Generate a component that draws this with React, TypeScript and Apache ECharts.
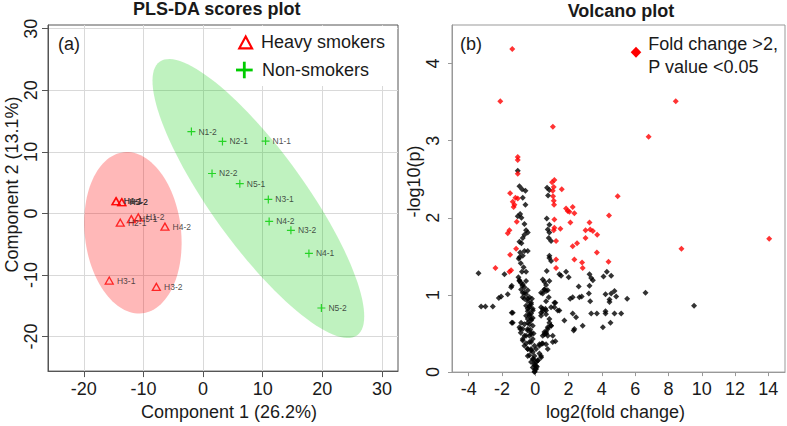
import React, { useEffect, useRef } from 'react';
import * as echarts from 'echarts';

const FONT = '"Liberation Sans", Arial, Helvetica, sans-serif';

// ---------- PLS-DA scores plot data ----------
const nonSmokerNames = ['N1-1', 'N1-2', 'N2-1', 'N2-2', 'N3-1', 'N3-2', 'N4-1', 'N4-2', 'N5-1', 'N5-2'];
const nonSmokerX = [10.49, -1.95, 3.26, 1.51, 10.95, 14.74, 17.76, 11.09, 6.17, 19.85];
const nonSmokerY = [11.75, 13.3, 11.7, 6.49, 2.28, -2.74, -6.49, -1.29, 4.83, -15.35];

const heavyNames = ['H1-1', 'H4-1', 'H2-2', 'H5-2', 'H2-1', 'H5-1', 'H1-2', 'H4-2', 'H3-1', 'H3-2'];
const heavyX = [-14.55, -14.62, -13.6, -13.66, -13.88, -12.03, -10.86, -6.39, -15.73, -7.83];
const heavyY = [2.0, 1.98, 1.85, 1.82, -1.5, -0.92, -0.64, -2.14, -10.9, -11.92];

// confidence ellipses: centre, major semi-axis vector, minor semi-axis vector (data units)
const ellipseCenters = [[-11.76, -3.14], [9.28, 2.42]];
const ellipseMajor = [[-1.56, 13.08], [16.55, -22.22]];
const ellipseMinor = [[8.02, 0.89], [-6.43, -4.4]];
const ellipseColors = ['rgba(255,0,0,0.28)', 'rgba(0,205,0,0.25)'];

const pcaXTicks = [-20, -10, 0, 10, 20, 30];
const pcaYTicks = [-20, -10, 0, 10, 20, 30];

// ---------- Volcano plot data ----------
const sigPoints = [
  [-1.38, 4.19], [-2.1, 3.51], [1.06, 3.18], [8.44, 3.51], [6.81, 3.05],
  [-1.05, 2.79], [-1.05, 2.75], [-1.05, 2.57],
  [1.01, 2.46], [1.15, 2.49], [1.11, 2.4], [1.05, 2.35], [1.59, 2.37],
  [-1.51, 2.32], [-1.35, 2.21], [-1.19, 2.26], [-1.25, 2.17], [-1.3, 2.14], [-1.05, 2.25],
  [1.07, 2.28], [1.11, 2.22], [1.13, 2.17],
  [1.85, 2.12], [1.95, 2.09], [2.25, 2.14], [2.35, 2.06], [2.05, 2.08],
  [4.43, 2.03], [4.95, 2.28],
  [2.11, 1.94], [-1.11, 1.95], [1.15, 1.98], [1.15, 1.87], [1.11, 1.84], [1.51, 1.86],
  [3.26, 1.94], [3.02, 1.84], [3.3, 1.85], [3.46, 1.83], [3.72, 1.78], [3.02, 1.74],
  [-1.55, 1.84], [-1.65, 1.8], [1.25, 1.7], [2.51, 1.67], [2.25, 1.63], [3.7, 1.55],
  [-1.51, 1.52], [-1.15, 1.6], [2.35, 1.46], [1.25, 1.46], [-2.39, 1.35], [-1.45, 1.32],
  [-1.55, 1.3], [1.25, 1.35], [2.81, 1.42], [2.85, 1.35], [4.4, 1.43], [8.78, 1.6], [14.05, 1.73],
];

const nonSigPoints = [
  [-1.05, 2.61], [-0.95, 2.41], [-0.79, 2.37], [-0.59, 2.35], [-0.75, 2.26], [-0.59, 2.17],
  [-1.05, 2.02], [-0.91, 2.05], [-0.83, 2.0], [-0.65, 1.92], [-0.55, 1.84], [-0.45, 1.81],
  [-0.65, 1.78], [-0.75, 1.74], [-0.95, 1.69], [-0.83, 1.67], [-0.91, 1.55], [-0.65, 1.57],
  [-0.45, 1.57], [-0.75, 1.51], [-0.95, 1.49], [-0.99, 1.47], [-0.87, 1.41], [-0.55, 1.3],
  [-1.01, 1.23], [-0.95, 1.19], [-0.87, 1.16], [-0.77, 1.12], [-0.55, 1.18], [-1.41, 1.12],
  [-1.45, 1.1], [-0.7, 1.36], [-0.8, 1.3],
  [-3.41, 1.28], [-1.85, 1.27], [-1.65, 1.01], [-2.05, 0.98], [-2.19, 0.96], [-3.25, 0.85],
  [-2.99, 0.85], [-2.55, 0.85], [-1.41, 0.77], [-1.41, 0.64], [-1.35, 0.77], [-1.35, 0.64],
  [-0.9, 0.56], [-0.87, 0.51], [-0.65, 0.47], [-0.75, 0.43], [-0.55, 0.37], [-0.45, 0.3],
  [-0.65, 1.1], [-0.45, 1.06], [-0.75, 1.03], [-0.55, 1.01], [-0.35, 0.97], [-0.65, 0.95],
  [-0.45, 0.92], [-0.25, 0.88], [-0.55, 0.86], [-0.35, 0.84], [-0.15, 0.82], [-0.45, 0.79],
  [-0.25, 0.76], [-0.35, 0.73], [-0.45, 0.69], [-0.25, 0.67], [-0.35, 0.62], [-0.15, 0.6],
  [-0.45, 0.56], [-0.25, 0.51], [-0.35, 0.47], [-0.15, 0.43], [-0.25, 0.39], [-0.05, 0.34],
  [-0.25, 0.3], [-0.15, 0.26], [-0.05, 0.21], [-0.1, 0.17], [0.05, 0.13], [-0.05, 0.09],
  [0.0, 0.04], [-0.03, 0.01], [0.1, 0.07], [0.15, 0.15], [0.25, 0.24], [0.35, 0.19],
  [-0.15, 0.7], [-0.3, 0.55], [-0.1, 0.5], [0.05, 0.3], [-0.35, 0.22], [-0.2, 0.95],
  [-0.95, 1.18], [-0.75, 1.14], [-0.85, 1.07], [-0.65, 1.03], [-0.75, 0.97], [-0.45, 0.95],
  [-0.25, 0.9], [-0.35, 0.86], [-0.45, 0.82], [-0.15, 0.8], [-0.35, 0.75], [-0.55, 0.73],
  [-0.25, 0.69], [-0.45, 0.64], [-0.65, 0.62], [-0.85, 0.64], [-0.95, 0.58], [-0.75, 0.56],
  [-0.45, 0.54], [-0.25, 0.49], [-0.55, 0.47], [-0.75, 0.41], [-0.35, 0.39], [-0.65, 0.34],
  [-0.45, 0.3], [-0.25, 0.28], [-0.45, 0.21], [-0.15, 0.17], [-0.25, 0.13], [-0.05, 0.11],
  [-0.15, 0.06], [0.05, 0.04], [-0.05, 0.0],
  [0.35, 1.03], [0.55, 1.07], [0.85, 1.18], [0.45, 0.82], [0.65, 0.8], [0.35, 0.77],
  [0.95, 0.84], [1.15, 0.9], [1.45, 0.8], [0.85, 0.69], [0.95, 0.6], [0.75, 0.56],
  [0.65, 0.52], [0.55, 0.49], [1.05, 0.47], [1.05, 0.39], [0.45, 0.37], [0.25, 0.34],
  [0.75, 0.3], [0.35, 0.21], [0.15, 0.15], [0.05, 0.08],
  [0.71, 2.39], [0.85, 2.36], [0.77, 2.29], [0.69, 1.99], [0.85, 1.91], [0.75, 1.85],
  [0.85, 1.81], [0.81, 1.74], [0.95, 1.7], [0.85, 1.51], [0.85, 1.48], [0.95, 1.44],
  [0.69, 1.31], [0.45, 1.2], [0.55, 1.17], [0.65, 1.13], [0.55, 1.07], [0.45, 1.02],
  [0.65, 1.05], [0.75, 1.06], [0.65, 0.92], [0.81, 0.97], [1.21, 0.9], [0.35, 0.84],
  [0.45, 0.79], [0.35, 0.73], [0.61, 0.82], [0.65, 0.75], [1.35, 0.8], [1.15, 0.84],
  [0.85, 0.64], [0.95, 0.6], [0.75, 0.58], [0.55, 0.52], [0.65, 0.5], [0.45, 0.47],
  [0.75, 0.47], [1.21, 0.4], [0.25, 0.36], [0.4, 0.37], [0.65, 0.36],
  [1.45, 1.27], [1.55, 1.25], [1.85, 1.3], [2.01, 1.23], [1.75, 0.67], [2.25, 0.76],
  [2.45, 0.71], [2.31, 0.54], [2.85, 0.6], [2.61, 1.11], [2.65, 0.97], [2.79, 0.98],
  [2.1, 0.95], [2.25, 0.97], [2.35, 0.56],
  [3.26, 1.27], [3.36, 1.22], [3.46, 1.19], [3.26, 1.12], [3.22, 1.02], [3.3, 0.92],
  [3.36, 0.76], [3.7, 0.76],
  [4.3, 1.3], [4.1, 1.24], [4.56, 1.25], [4.22, 1.01], [4.56, 1.02], [4.76, 1.05],
  [4.86, 0.98], [4.46, 0.94], [4.46, 0.91], [5.52, 0.95], [6.62, 1.03], [9.54, 0.86],
  [4.22, 0.79], [4.22, 0.76], [4.76, 0.76], [5.16, 0.76], [4.52, 0.64], [4.06, 0.58],
];

const volcXTicks = [-4, -2, 0, 2, 4, 6, 8, 10, 12, 14];
const volcYTicks = [0, 1, 2, 3, 4];

const TXT = '#1a1a1a';

function axisCommon(color: string, ticks: number[], tickLen: number, margin: number, rotate = 0) {
  return {
    axisLine: { show: true, onZero: false, lineStyle: { color, width: 1 } },
    axisTick: { show: true, inside: false, length: tickLen, customValues: ticks, lineStyle: { color } },
    axisLabel: {
      customValues: ticks,
      fontSize: 18,
      fontFamily: FONT,
      color: TXT,
      margin,
      rotate,
      showMinLabel: true,
      showMaxLabel: true,
    },
  };
}

export default function App() {
  const ref = useRef<HTMLDivElement>(null);

  useEffect(() => {
    if (!ref.current) return;
    const chart = echarts.init(ref.current, null, { renderer: 'svg' });

    const ellipseData = ellipseCenters.map((c, i) => [c[0], c[1], i]);

    const option: any = {
      animation: false,
      backgroundColor: '#ffffff',
      textStyle: { fontFamily: FONT },
      grid: [
        { left: 48, top: 25, width: 350, height: 349, show: true, borderColor: '#555', borderWidth: 1, backgroundColor: 'transparent' },
        { left: 452, top: 25, width: 333, height: 348, show: true, borderColor: '#999', borderWidth: 1, backgroundColor: 'transparent' },
      ],
      xAxis: [
        {
          type: 'value', gridIndex: 0, min: -26, max: 32.7,
          ...axisCommon('#555', pcaXTicks, 6, 9),
          splitLine: { show: true, lineStyle: { color: '#d9d9d9', width: 1 } },
          name: 'Component 1 (26.2%)', nameLocation: 'middle', nameGap: 31,
          nameTextStyle: { fontSize: 18, fontFamily: FONT, color: TXT, padding: [0, 0, 0, 12] },
        },
        {
          type: 'value', gridIndex: 1, min: -5, max: 15,
          ...axisCommon('#999', volcXTicks, 4, 8),
          splitLine: { show: false },
          name: 'log2(fold change)', nameLocation: 'middle', nameGap: 28,
          nameTextStyle: { fontSize: 18, fontFamily: FONT, color: TXT, padding: [0, 6, 0, 0] },
        },
      ],
      yAxis: [
        {
          type: 'value', gridIndex: 0, min: -25.6, max: 30.6,
          ...axisCommon('#555', pcaYTicks, 6, 8, 90),
          splitLine: { show: true, lineStyle: { color: '#d9d9d9', width: 1 } },
          name: 'Component 2 (13.1%)', nameLocation: 'middle', nameGap: 27,
          nameTextStyle: { fontSize: 18, fontFamily: FONT, color: TXT, padding: [0, 0, 0, 27] },
        },
        {
          type: 'value', gridIndex: 1, min: 0, max: 4.5,
          ...axisCommon('#999', volcYTicks, 4, 10, 90),
          splitLine: { show: false },
          name: '-log10(p)', nameLocation: 'middle', nameGap: 26,
          nameTextStyle: { fontSize: 18, fontFamily: FONT, color: TXT, padding: [0, 0, 0, 34] },
        },
      ],
      series: [
        {
          type: 'custom',
          name: 'ellipses',
          xAxisIndex: 0,
          yAxisIndex: 0,
          z: 1,
          clip: true,
          silent: true,
          data: ellipseData,
          renderItem: (params: any, api: any) => {
            const i = params.dataIndex;
            const c = ellipseCenters[i];
            const M = ellipseMajor[i];
            const m = ellipseMinor[i];
            const pts: number[][] = [];
            const n = 120;
            for (let k = 0; k < n; k++) {
              const t = (2 * Math.PI * k) / n;
              const ct = Math.cos(t);
              const st = Math.sin(t);
              pts.push(api.coord([c[0] + ct * M[0] + st * m[0], c[1] + ct * M[1] + st * m[1]]));
            }
            return {
              type: 'polygon',
              shape: { points: pts },
              style: { fill: ellipseColors[i], stroke: 'none' },
            };
          },
        },
        {
          type: 'scatter',
          name: 'Heavy smokers',
          xAxisIndex: 0,
          yAxisIndex: 0,
          z: 3,
          symbol: 'triangle',
          symbolSize: [8, 7],
          itemStyle: { color: 'rgba(255,255,255,0)', borderColor: '#FF0000', borderWidth: 1.3 },
          label: {
            show: true, position: 'right', distance: 3, formatter: '{b}',
            fontSize: 8.5, fontFamily: FONT, color: '#222',
          },
          data: heavyNames.map((n, i) => ({ name: n, value: [heavyX[i], heavyY[i]] })),
        },
        {
          type: 'scatter',
          name: 'Non-smokers',
          xAxisIndex: 0,
          yAxisIndex: 0,
          z: 3,
          symbol: 'path://M3.4,0H4.6V3.4H8V4.6H4.6V8H3.4V4.6H0V3.4H3.4Z',
          symbolSize: 8,
          itemStyle: { color: '#00CC00' },
          label: {
            show: true, position: 'right', distance: 3, formatter: '{b}',
            fontSize: 8.5, fontFamily: FONT, color: '#222',
          },
          data: nonSmokerNames.map((n, i) => ({ name: n, value: [nonSmokerX[i], nonSmokerY[i]] })),
        },
        {
          type: 'scatter',
          name: 'Not significant',
          xAxisIndex: 1,
          yAxisIndex: 1,
          z: 3,
          symbol: 'diamond',
          symbolSize: 6,
          itemStyle: { color: '#000000' },
          data: nonSigPoints,
        },
        {
          type: 'scatter',
          name: 'Fold change >2, P value <0.05',
          xAxisIndex: 1,
          yAxisIndex: 1,
          z: 4,
          symbol: 'diamond',
          symbolSize: 6,
          itemStyle: { color: '#FF0000' },
          data: sigPoints,
        },
      ],
      graphic: [
        { type: 'text', x: 216.7, y: 9, z: 60, style: { text: 'PLS-DA scores plot', font: `bold 18px ${FONT}`, fill: TXT, align: 'center', verticalAlign: 'middle' } },
        { type: 'text', x: 621, y: 11, z: 60, style: { text: 'Volcano plot', font: `bold 18px ${FONT}`, fill: TXT, align: 'center', verticalAlign: 'middle' } },
        // left legend box
        { type: 'rect', z: 50, shape: { x: 231, y: 26, width: 166, height: 60 }, style: { fill: '#ffffff' } },
        { type: 'polygon', z: 51, shape: { points: [[239.3, 48.3], [252, 48.3], [245.7, 36.5]] }, style: { fill: 'none', stroke: '#FF0000', lineWidth: 2.2 } },
        { type: 'text', x: 261, y: 41.5, z: 51, style: { text: 'Heavy smokers', font: `18px ${FONT}`, fill: TXT, align: 'left', verticalAlign: 'middle' } },
        { type: 'line', z: 51, shape: { x1: 236, y1: 70, x2: 252.7, y2: 70 }, style: { stroke: '#00CC00', lineWidth: 2.8 } },
        { type: 'line', z: 51, shape: { x1: 244.3, y1: 61.7, x2: 244.3, y2: 78.3 }, style: { stroke: '#00CC00', lineWidth: 2.8 } },
        { type: 'text', x: 262, y: 70, z: 51, style: { text: 'Non-smokers', font: `18px ${FONT}`, fill: TXT, align: 'left', verticalAlign: 'middle' } },
        { type: 'text', x: 58, y: 44, z: 51, style: { text: '(a)', font: `18px ${FONT}`, fill: TXT, align: 'left', verticalAlign: 'middle' } },
        // right legend
        { type: 'text', x: 460, y: 44, z: 51, style: { text: '(b)', font: `18px ${FONT}`, fill: TXT, align: 'left', verticalAlign: 'middle' } },
        { type: 'polygon', z: 51, shape: { points: [[636, 46.8], [641.3, 52.3], [636, 57.8], [630.7, 52.3]] }, style: { fill: '#FF0000' } },
        { type: 'text', x: 648.3, y: 43.5, z: 51, style: { text: 'Fold change >2,', font: `18px ${FONT}`, fill: TXT, align: 'left', verticalAlign: 'middle' } },
        { type: 'text', x: 648.3, y: 66.5, z: 51, style: { text: 'P value <0.05', font: `18px ${FONT}`, fill: TXT, align: 'left', verticalAlign: 'middle' } },
      ],
    };

    chart.setOption(option);
    return () => chart.dispose();
  }, []);

  return (
    <div
      ref={ref}
      style={{ position: 'fixed', left: 0, top: 0, width: 787, height: 426, background: '#ffffff' }}
    />
  );
}
